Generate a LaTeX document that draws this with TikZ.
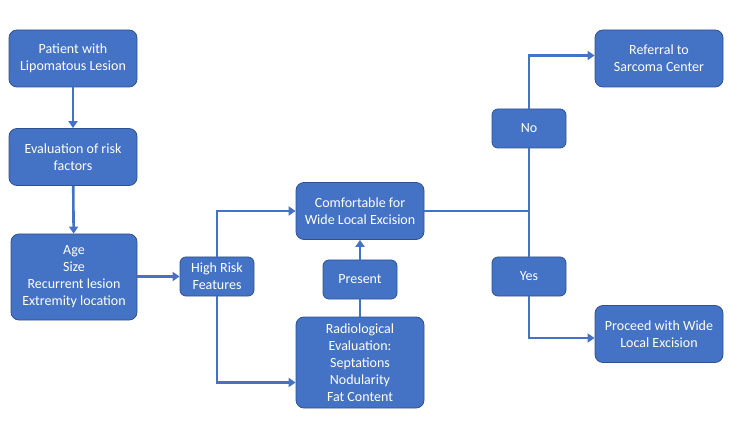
\documentclass[tikz,border=0pt]{standalone}
\usepackage{fontspec}
\setmainfont{Carlito}
\usetikzlibrary{arrows.meta, positioning}
\definecolor{boxblue}{HTML}{4472C4}
\definecolor{edgeblue}{HTML}{2F528F}

\begin{document}
\begin{tikzpicture}[
  box/.style={rectangle, draw=edgeblue, fill=boxblue, rounded corners=8pt, line width=0.8pt, text=white, align=center, inner sep=0pt, font=\fontsize{14}{17}\selectfont},
  wide/.style={box, minimum width=128pt, minimum height=57pt},
  small/.style={box, rounded corners=6pt, minimum width=74pt, minimum height=39pt},
  ln/.style={draw=boxblue, line width=2.6pt},
  arr/.style={ln, -{Triangle[length=7pt, width=9pt]}}
]
\useasboundingbox (0pt,0pt) rectangle (750pt,-422pt);

\node[wide] (patient) at (73pt,-58.5pt) {Patient with\\Lipomatous Lesion};
\node[wide] (riskeval) at (73pt,-157pt) {Evaluation of risk\\factors};
\node[wide, minimum width=126pt, minimum height=86pt] (factors) at (74pt,-277pt) {Age\\Size\\Recurrent lesion\\Extremity location};
\node[small] (highrisk) at (217pt,-276.5pt) {High Risk\\Features};
\node[wide] (comfort) at (360pt,-211pt) {Comfortable for\\Wide Local Excision};
\node[small] (present) at (360pt,-279.5pt) {Present};
\node[wide, minimum height=91pt] (radio) at (360pt,-362.5pt) {Radiological\\Evaluation:\\Septations\\Nodularity\\Fat Content};
\node[small] (no) at (529pt,-128.5pt) {No};
\node[small] (yes) at (529pt,-276.5pt) {Yes};
\node[wide] (referral) at (659pt,-58.5pt) {Referral to\\Sarcoma Center};
\node[wide] (proceed) at (659pt,-334pt) {Proceed with Wide\\Local Excision};

\coordinate (split) at (529pt,-211pt);

\draw[arr] (patient) -- (riskeval);
\draw[arr] (riskeval) -- (factors);
\draw[arr] (factors.east |- highrisk) -- (highrisk);
\draw[arr] (highrisk.north) |- (comfort.west);
\draw[arr] (highrisk.south) |- ([yshift=-20pt]radio.west);
\draw[ln] (radio) -- (present);
\draw[arr] (present) -- (comfort);
\draw[ln] (comfort.east) -- (split);
\draw[ln] (no.south) -- (yes.north);
\draw[arr] (no.north) |- ([yshift=3pt]referral.west);
\draw[arr] (yes.south) |- ([yshift=-4pt]proceed.west);
\end{tikzpicture}
\end{document}
